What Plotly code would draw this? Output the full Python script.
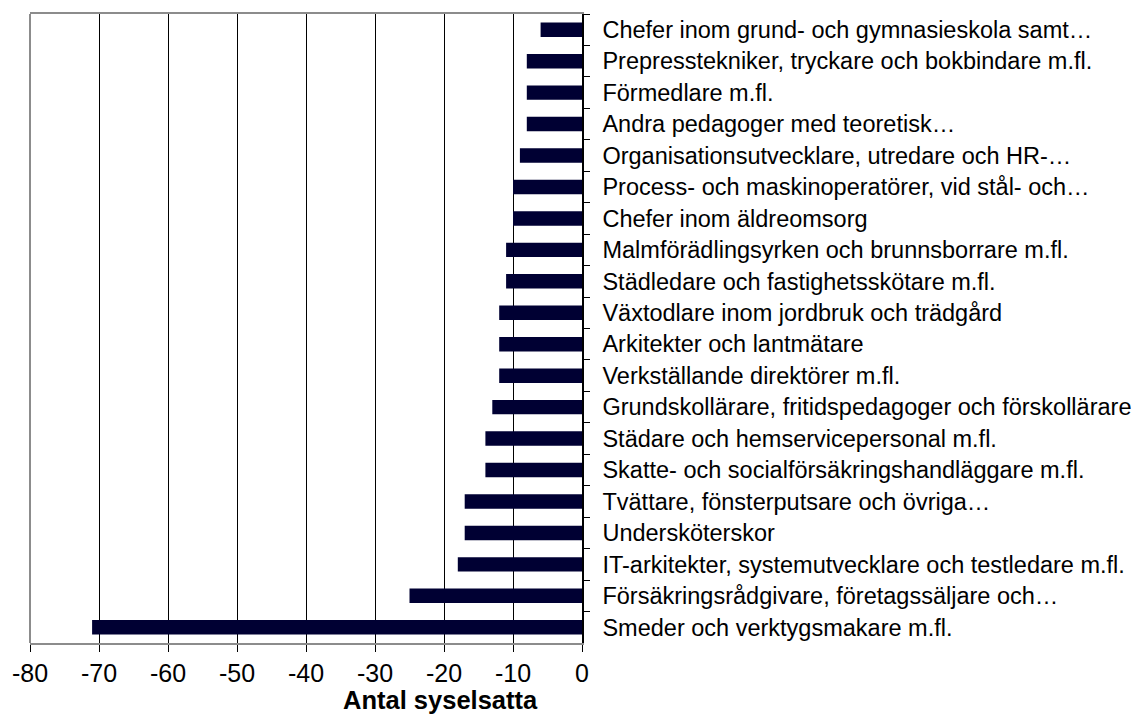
import plotly.graph_objects as go

# Occupations, listed top to bottom
yrken = [
    "Chefer inom grund- och gymnasieskola samt…",
    "Prepresstekniker, tryckare och bokbindare m.fl.",
    "Förmedlare m.fl.",
    "Andra pedagoger med teoretisk…",
    "Organisationsutvecklare, utredare och HR-…",
    "Process- och maskinoperatörer, vid stål- och…",
    "Chefer inom äldreomsorg",
    "Malmförädlingsyrken och brunnsborrare m.fl.",
    "Städledare och fastighetsskötare m.fl.",
    "Växtodlare inom jordbruk och trädgård",
    "Arkitekter och lantmätare",
    "Verkställande direktörer m.fl.",
    "Grundskollärare, fritidspedagoger och förskollärare",
    "Städare och hemservicepersonal m.fl.",
    "Skatte- och socialförsäkringshandläggare m.fl.",
    "Tvättare, fönsterputsare och övriga…",
    "Undersköterskor",
    "IT-arkitekter, systemutvecklare och testledare m.fl.",
    "Försäkringsrådgivare, företagssäljare och…",
    "Smeder och verktygsmakare m.fl.",
]

# Change in number of employed persons
antal = [-6, -8, -8, -8, -9, -10, -10, -11, -11, -12,
         -12, -12, -13, -14, -14, -17, -17, -18, -25, -71]

x_ticks = [-80, -70, -60, -50, -40, -30, -20, -10, 0]

FONT = "Liberation Sans, Arial, sans-serif"

fig = go.Figure(
    go.Bar(
        x=antal,
        y=yrken,
        orientation="h",
        marker=dict(color="#000033", line=dict(width=0)),
        width=0.46,
    )
)

fig.update_layout(
    width=1148,
    height=718,
    margin=dict(l=27, r=566, t=13, b=75),
    paper_bgcolor="white",
    plot_bgcolor="white",
    showlegend=False,
    font=dict(family=FONT, color="black"),
    xaxis=dict(
        range=[-80, 0],
        tickvals=x_ticks,
        ticktext=[str(v) for v in x_ticks],
        showgrid=True,
        gridcolor="black",
        gridwidth=1,
        zeroline=False,
        showline=True,
        linecolor="#8c8c8c",
        linewidth=2,
        mirror=True,
        ticks="outside",
        ticklen=7,
        tickcolor="black",
        tickwidth=1,
        tickfont=dict(size=25, family=FONT, color="black"),
    ),
    yaxis=dict(
        categoryorder="array",
        categoryarray=yrken,
        autorange="reversed",
        side="right",
        showgrid=False,
        zeroline=False,
        showline=True,
        linecolor="black",
        linewidth=1.5,
        ticks="outside",
        ticklen=6,
        tickcolor="black",
        tickson="boundaries",
        ticklabelstandoff=14,
        tickfont=dict(size=23.5, family=FONT, color="black"),
    ),
    annotations=[
        dict(
            text="<b>Antal syselsatta</b>",
            xref="paper",
            yref="paper",
            x=0.744,
            y=-0.0906,
            xanchor="center",
            yanchor="middle",
            showarrow=False,
            font=dict(size=25.5, family=FONT, color="black"),
        )
    ],
    shapes=[
        dict(
            type="line",
            xref="paper",
            yref="paper",
            x0=0,
            x1=0,
            y0=0,
            y1=1,
            line=dict(color="#8c8c8c", width=2),
            layer="above",
        )
    ],
)

fig.write_html("out.html")
